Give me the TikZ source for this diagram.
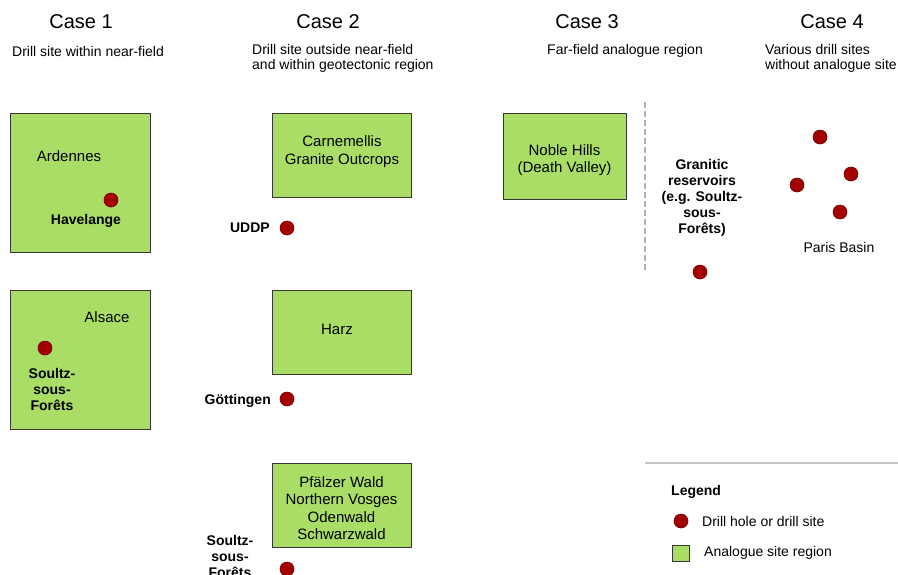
\documentclass[tikz,border=0pt]{standalone}
\usepackage{fontspec}
\setmainfont{Liberation Sans}
\definecolor{regiongreen}{RGB}{170,221,102}
\definecolor{dotred}{RGB}{165,0,0}
\definecolor{dotedge}{RGB}{110,0,0}
\definecolor{boxedge}{RGB}{55,55,55}
\definecolor{sepgray}{RGB}{175,175,175}
\definecolor{rulegray}{RGB}{195,195,195}
\begin{document}
\begin{tikzpicture}[x=1pt,y=-1pt,
 region/.style={draw=boxedge, fill=regiongreen, line width=1pt, inner sep=0pt},
 site/.style={circle, fill=dotred, draw=dotedge, line width=0.6pt, minimum size=14pt, inner sep=0pt},
 casetitle/.style={font=\fontsize{20}{24}\selectfont, inner sep=0pt},
 subtitle/.style={font=\fontsize{14}{15}\selectfont, align=left, inner sep=0pt},
 boxtext/.style={font=\fontsize{15}{18}\selectfont, align=center, inner sep=0pt},
 sitelabel/.style={font=\fontsize{14}{16}\selectfont\bfseries, align=center, inner sep=0pt},
 legendtext/.style={font=\fontsize{14}{16}\selectfont, anchor=west, inner sep=0pt},
]
\useasboundingbox (0,0) rectangle (898,574);

% headers
\node[casetitle] (c1) at (81,22) {Case 1};
\node[casetitle] (c2) at (328,22) {Case 2};
\node[casetitle] (c3) at (587,22) {Case 3};
\node[casetitle] (c4) at (832,22) {Case 4};
\node[subtitle, anchor=west] (s1) at (12,51) {Drill site within near-field};
\node[subtitle, anchor=west] (s2) at (252,58) {Drill site outside near-field\\and within geotectonic region};
\node[subtitle, anchor=west] (s3) at (547,51) {Far-field analogue region};
\node[subtitle, anchor=west] (s4) at (765,58) {Various drill sites\\without analogue site};

% case 1
\node[region, minimum width=140pt, minimum height=139pt] (ardennes) at (80,182.5) {};
\node[boxtext] (ardlab) at (69,156) {Ardennes};
\node[site] (havdot) at (111,200) {};
\node[sitelabel] (havlab) at (86,221) {Havelange};

\node[region, minimum width=140pt, minimum height=139pt] (alsace) at (80,359.5) {};
\node[boxtext] (alslab) at (107,317) {Alsace};
\node[site] (soudot1) at (45,348) {};
\node[sitelabel] (soulab1) at (52,389) {Soultz-\\sous-\\Forêts};

% case 2
\node[region, minimum width=139pt, minimum height=84pt] (carn) at (341.5,155) {};
\node[boxtext] (carnlab) at (342,152) {Carnemellis\\Granite Outcrops};
\node[site] (uddpdot) at (287,228) {};
\node[sitelabel, anchor=east] (uddplab) at (270,228) {UDDP};

\node[region, minimum width=139pt, minimum height=84pt] (harz) at (341.5,332) {};
\node[boxtext] (harzlab) at (337,329) {Harz};
\node[site] (gotdot) at (287,399) {};
\node[sitelabel, anchor=east] (gotlab) at (271,401) {Göttingen};

\node[region, minimum width=139pt, minimum height=84pt] (pfalz) at (341.5,505) {};
\node[boxtext, font=\fontsize{15}{17.3}\selectfont] (pfalzlab) at (341.5,508) {Pfälzer Wald\\Northern Vosges\\Odenwald\\Schwarzwald};
\node[site] (soudot2) at (287,569) {};
\node[sitelabel] (soulab2) at (230,556) {Soultz-\\sous-\\Forêts};

% case 3
\node[region, minimum width=123pt, minimum height=86pt] (noble) at (564.5,156) {};
\node[boxtext, font=\fontsize{15}{17}\selectfont] (noblelab) at (564.5,160) {Noble Hills\\(Death Valley)};
\coordinate (septop) at (645,102);
\coordinate (sepbot) at (645,273);
\draw[sepgray, line width=1.2pt, dash pattern=on 6pt off 3pt] (septop) -- (sepbot);
\node[sitelabel] (granlab) at (702,198) {Granitic\\reservoirs\\(e.g. Soultz-\\sous-\\Forêts)};
\node[site] (grandot) at (700,272) {};

% case 4
\node[site] (pb1) at (820,137) {};
\node[site] (pb2) at (851,174) {};
\node[site] (pb3) at (797,185) {};
\node[site] (pb4) at (840,212) {};
\node[boxtext, font=\fontsize{14}{16}\selectfont] (pblab) at (839,247) {Paris Basin};

% legend
\coordinate (legl) at (645,463);
\coordinate (legr) at (898,463);
\draw[rulegray, line width=1.5pt] (legl) -- (legr);
\node[sitelabel, anchor=west] (legtitle) at (671,492) {Legend};
\node[site] (legdot) at (681,521) {};
\node[legendtext] (legdottext) at (702,521) {Drill hole or drill site};
\node[region, line width=0.8pt, minimum width=17pt, minimum height=16pt] (legbox) at (680.5,553) {};
\node[legendtext] (legboxtext) at (704,553) {Analogue site region};
\end{tikzpicture}
\end{document}
